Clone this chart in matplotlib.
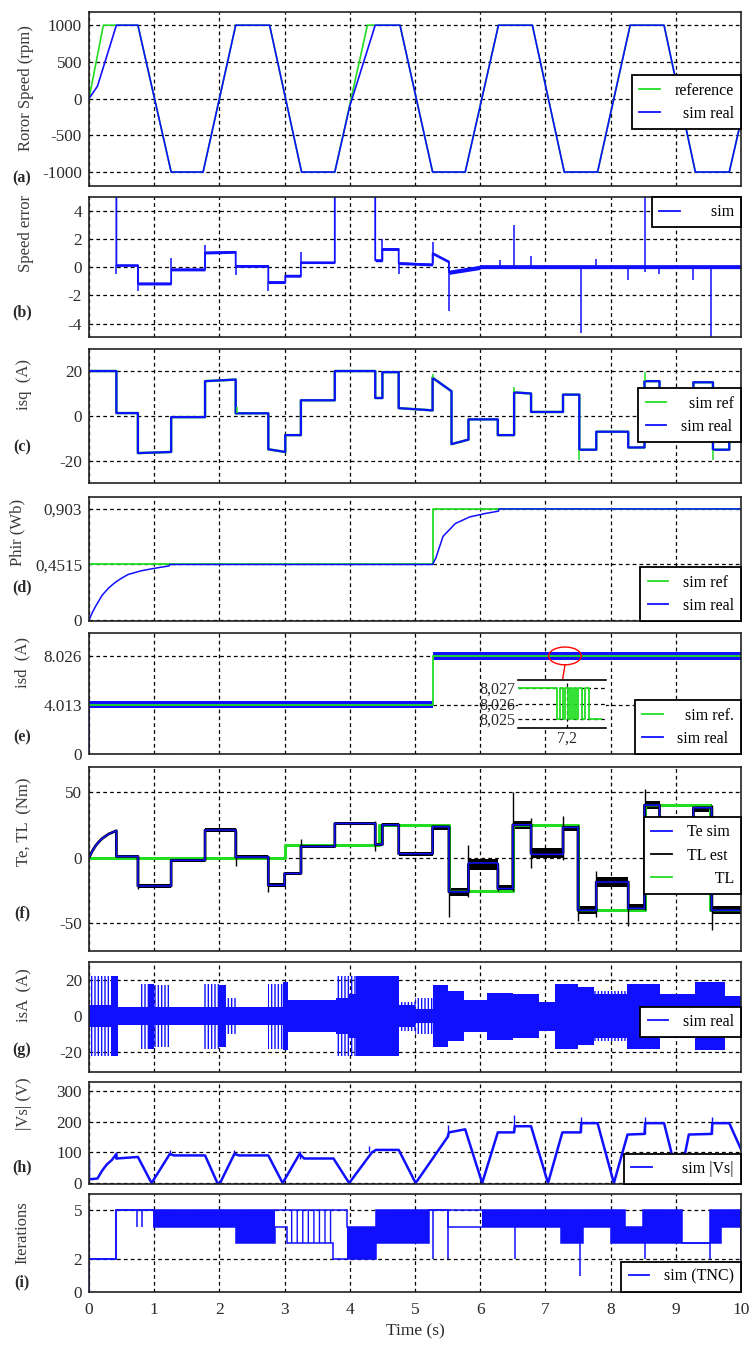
import numpy as np
import matplotlib
matplotlib.use('Agg')
import matplotlib.pyplot as plt
from matplotlib.lines import Line2D
from matplotlib.patches import Ellipse

plt.rcParams['font.family'] = ['Liberation Serif', 'DejaVu Serif']
plt.rcParams['axes.unicode_minus'] = False
plt.rcParams['hatch.linewidth'] = 1.0

BLUE = '#1010ff'
GREEN = '#22dd22'
TXT = '#2a2a2a'

# ---- (a) rotor speed (rpm)
spd_ref_t = [0, 0.22, 0.75, 1.26, 1.75, 2.25, 2.77, 3.26, 3.77, 4.27, 4.77, 5.27, 5.77, 6.28, 6.8, 7.29, 7.8, 8.3, 8.82, 9.3, 9.82, 10]
spd_ref_v = [0, 1000, 1000, -1000, -1000, 1000, 1000, -1000, -1000, 1000, 1000, -1000, -1000, 1000, 1000, -1000, -1000, 1000, 1000, -1000, -1000, -300]
spd_t = [0, 0.13, 0.42, 0.75, 1.26, 1.75, 2.25, 2.77, 3.26, 3.77, 4.0, 4.39, 4.77, 5.27, 5.77, 6.28, 6.8, 7.29, 7.8, 8.3, 8.82, 9.3, 9.82, 10]
spd_v = [0, 170, 1000, 1000, -1000, -1000, 1000, 1000, -1000, -1000, -100, 1000, 1000, -1000, -1000, 1000, 1000, -1000, -1000, 1000, 1000, -1000, -1000, -300]

# ---- (b) speed error, piecewise segments (start / end value)
err_edges = [0, 0.42, 0.75, 1.26, 1.78, 2.25, 2.75, 3.01, 3.25, 3.77, 4.39, 4.5, 4.75, 5.27, 5.52, 6.0, 10]
err_v0 = [60, 0.15, -1.15, -0.15, 1.05, 0.1, -1.05, -0.6, 0.35, 60, 0.5, 1.3, 0.3, 1.0, -0.35, 0.05]
err_v1 = [60, 0.15, -1.15, -0.15, 1.1, 0.1, -1.05, -0.6, 0.35, 60, 0.5, 1.3, 0.2, 0.4, 0.0, 0.05]
err_noise = [0, 0.08, 0.1, 0.1, 0.1, 0.1, 0.1, 0.1, 0.08, 0, 0.1, 0.1, 0.1, 0.1, 0.15, 0.14]
err_spk_t = [0.42, 0.75, 1.26, 1.78, 2.25, 2.75, 3.25, 4.5, 4.75, 5.27, 5.52, 6.3, 6.52, 6.78, 7.54, 7.78, 8.26, 8.52, 8.74, 9.26, 9.54]
err_spk_lo = [-0.5, -1.7, -0.15, 0.05, -0.55, -1.7, 0.35, 0.5, -0.45, 0.3, -3.1, 0.0, 0.0, 0.0, -4.7, 0.0, -0.9, -0.3, -0.5, -0.9, -5.5]
err_spk_hi = [0.15, 0.15, 0.65, 1.6, 0.1, -1.05, 1.1, 2.0, 0.3, 1.8, 0.0, 0.5, 3.0, 0.8, 0.1, 0.6, 0.1, 6.0, 0.1, 0.1, 0.05]

# ---- (c) isq (A)
isq_edges = [0, 0.42, 0.75, 1.26, 1.78, 2.25, 2.75, 3.01, 3.25, 3.77, 4.39, 4.5, 4.75, 5.27, 5.56, 5.82, 6.27, 6.52, 6.78, 7.27, 7.52, 7.78, 8.27, 8.52, 8.75, 9.27, 9.57, 9.82, 10]
isq_v0 = [20, 1.3, -16.5, -0.5, 15.5, 1.2, -14.8, -8.5, 7, 20, 8, 19.5, 3.5, 17, -12.5, -1.5, -8.5, 10.5, 1.8, 9.5, -15, -7, -14, 15.5, 2, 15, -15, -8]
isq_v1 = [20, 1.3, -16.0, -0.5, 16.2, 1.2, -16.0, -8.5, 7, 20, 8, 19.5, 2.5, 11, -10.5, -1.5, -8.5, 10.0, 1.8, 9.5, -15, -7, -14, 15.5, 2, 15, -15, -8]
isq_ref_spk_t = [2.27, 5.27, 6.52, 7.52, 8.52, 9.57]
isq_ref_spk_lo = [1.2, 17, 10.5, -19.5, 15.5, -19.5]
isq_ref_spk_hi = [4, 18.5, 13, -15, 19.5, -15]

# ---- (d) rotor flux (Wb)
phi_ref_t = [0, 5.27, 5.27, 10]
phi_ref_v = [0.4515, 0.4515, 0.903, 0.903]
phi_t = [0, 0.05, 0.1, 0.2, 0.3, 0.4, 0.5, 0.6, 0.8, 1.0, 1.23, 1.24, 5.27, 5.32, 5.43, 5.62, 5.84, 6.07, 6.28, 6.29, 10]
phi_v = [0, 0.06, 0.11, 0.2, 0.26, 0.305, 0.34, 0.37, 0.40, 0.42, 0.44, 0.4515, 0.4515, 0.505, 0.68, 0.785, 0.838, 0.865, 0.885, 0.903, 0.903]

# ---- (e) isd (A)
isd_ref_t = [0, 5.27, 5.27, 10]
isd_ref_v = [4.013, 4.013, 8.026, 8.026]
isd_edges = [0, 5.27, 10]
isd_lvl = [4.013, 7.98]
isd_noise = [0.28, 0.3]
zoom_t = [7.10, 7.179, 7.185, 7.193, 7.197, 7.203, 7.207, 7.211, 7.214, 7.219, 7.223, 7.231, 7.238, 7.245, 7.27]
zoom_v = [8.027, 8.025, 8.027, 8.025, 8.027, 8.025, 8.027, 8.025, 8.027, 8.025, 8.027, 8.025, 8.027, 8.025, 8.025]

# ---- (f) torques (Nm)
te0_t = [0, 0.05, 0.1, 0.15, 0.2, 0.3, 0.42]
te0_v = [0, 5, 9, 12, 14.5, 18, 20.5]
f_edges = [0.42, 0.75, 1.26, 1.78, 2.25, 2.75, 3.0, 3.25, 3.77, 4.39, 4.5, 4.75, 5.27, 5.52, 5.82, 6.27, 6.5, 6.78, 7.27, 7.5, 7.78, 8.27, 8.52, 8.75, 9.27, 9.55, 10]
te_lvl = [1, -21.5, -2, 21, 0.5, -21, -12, 8.5, 26, 10, 25, 3, 23.5, -26, -4, -23.5, 25, 2.5, 23, -40, -18.5, -38.5, 40, 18, 38, -40]
tl_est_lvl = [1, -21.5, -2, 21, 0.5, -21, -12, 8.5, 26, 10, 25, 3, 23.5, -26, -5, -23.5, 25, 3.5, 23, -40, -18.5, -38.5, 40, 18, 38, -40]
tl_est_noise = [1.4, 1.4, 1.4, 1.4, 1.4, 1.4, 1.4, 1.4, 1.4, 1.4, 1.4, 1.4, 2.5, 3.0, 4.0, 3.0, 3.0, 3.5, 3.0, 3.0, 3.5, 3.0, 3.0, 3.0, 3.0, 3.0]
tl_edges = [0, 3.0, 4.45, 5.52, 6.5, 7.5, 8.52, 9.53, 10]
tl_lvl = [0, 10, 25, -25, 25, -40, 40, -40]
tl_spk_t = [0.75, 2.25, 2.75, 3.25, 4.39, 5.52, 5.82, 6.27, 6.5, 6.78, 7.27, 7.5, 7.78, 8.27, 8.52, 9.55]
tl_spk_lo = [-24, -6, -26, -12, 5, -45, -30, -25, -25, -8, -2, -48, -45, -52, -40, -55]
tl_spk_hi = [1, 20, 0, 14, 28, 23, 10, -8, 50, 30, 32, 25, -10, -18, 52, 40]

# ---- (g) isA (A): envelope of dense and sparse switching
isa_edges = [0, 0.36, 0.44, 0.8, 0.92, 1.0, 1.22, 1.75, 2.0, 2.1, 2.25, 2.75, 2.98, 3.05, 3.79, 3.98, 4.1, 4.75, 5.0, 5.27, 5.5, 5.75, 6.1, 6.5, 6.9, 7.15, 7.5, 7.75, 8.25, 8.75, 9.3, 9.75, 10]
isa_dense = [6, 22, 5, 5, 18, 5, 5, 5, 17, 5, 5, 5, 19, 9, 10, 12, 22, 6, 4, 17, 14, 9, 13, 12, 8, 18, 16, 12, 18, 12, 19, 11]
isa_sparse = [22, 0, 0, 18, 0, 17, 0, 18, 0, 10, 0, 18, 0, 0, 22, 22, 0, 8, 10, 0, 0, 0, 0, 0, 0, 0, 0, 14, 0, 0, 0, 0]

# ---- (h) |Vs| (V)
vs_t = [0, 0, 0.13, 0.2, 0.27, 0.35, 0.42, 0.42, 0.75, 0.96, 1.24, 1.3, 1.78, 1.97, 2.01, 2.23, 2.3, 2.75, 2.97, 3.23, 3.3, 3.75, 3.99, 4.34, 4.4, 4.75, 5.01, 5.5, 5.52, 5.77, 6.03, 6.27, 6.52, 6.53, 6.78, 7.04, 7.26, 7.54, 7.55, 7.8, 8.05, 8.26, 8.52, 8.53, 8.82, 9.05, 9.2, 9.55, 9.56, 9.82, 10]
vs_v = [80, 12, 15, 40, 60, 75, 95, 80, 85, 0, 95, 90, 90, 0, 0, 95, 90, 90, 0, 95, 80, 80, 0, 100, 108, 108, 0, 150, 165, 175, 0, 165, 165, 185, 185, 0, 165, 165, 195, 195, 0, 158, 160, 195, 195, 0, 158, 160, 195, 195, 110]
vs_spk_t = [0.42, 1.24, 2.23, 3.23, 4.3, 5.5, 6.52, 7.54, 8.52, 9.55]
vs_spk_lo = [80, 90, 90, 80, 100, 150, 165, 165, 160, 160]
vs_spk_hi = [100, 108, 108, 105, 120, 190, 222, 215, 215, 215]

# ---- (i) iterations per step
it_edges = [0, 0.41, 1.0, 2.25, 2.85, 3.03, 3.74, 3.96, 4.4, 5.21, 5.5, 6.02, 7.24, 7.57, 8.0, 8.22, 8.5, 9.1, 9.52, 9.7, 10]
it_lo = [2, 5, 4, 3, 4, 3, 2, 2, 3, 5, 4, 4, 3, 4, 3, 3, 3, 3, 3, 4]
it_hi = [2, 5, 5, 5, 5, 5, 5, 4, 5, 5, 5, 5, 5, 5, 5, 4, 5, 3, 5, 5]
it_sparse = [0, 0, 0, 0, 0, 1, 1, 0, 0, 0, 1, 0, 0, 0, 0, 0, 0, 0, 0, 0]
it_spk_t = [0.0, 0.73, 0.82, 1.0, 5.27, 5.5, 6.54, 7.53, 8.52, 9.53]
it_spk_lo = [2, 4, 4, 4, 2, 2, 2, 1, 2, 2]
it_spk_hi = [5, 5, 5, 5, 5, 5, 4, 3, 3, 3]


def seg_xy(edges, v0, v1=None):
    # piecewise segments -> polyline (vertical jumps at the edges)
    if v1 is None:
        v1 = v0
    x = np.repeat(np.asarray(edges, float), 2)[1:-1]
    y = np.column_stack([v0, v1]).ravel()
    return x, y


W, H = 751, 1346
fig = plt.figure(figsize=(W / 100, H / 100), dpi=100)


def panel(top, bottom, ylim, yticks, yticklabels=None):
    ax = fig.add_axes([89 / W, 1 - bottom / H, 652 / W, (bottom - top) / H])
    ax.set_xlim(0, 10)
    ax.set_ylim(*ylim)
    ax.set_xticks(range(11))
    ax.set_yticks(yticks)
    if yticklabels is not None:
        ax.set_yticklabels(yticklabels)
    ax.set_xticklabels([])
    ax.grid(True, color='k', ls=(0, (3, 2.5)), lw=0.9)
    ax.set_axisbelow(True)
    ax.tick_params(length=0, labelsize=12.3, pad=5, labelcolor=TXT)
    for s in ax.spines.values():
        s.set_linewidth(1.2)
        s.set_color('#222222')
    return ax


def side_text(y_lab, lab, y_tag, tag, x_lab=26):
    fig.text(x_lab / W, 1 - y_lab / H, lab, rotation=90, ha='center', va='center',
             fontsize=12, color='#3a3a3a')
    fig.text(22 / W, 1 - y_tag / H, tag, ha='center', va='center',
             fontsize=11.5, fontweight='bold', color=TXT)


def legend(ax, items, loc, anchor):
    handles = [Line2D([], [], color=c, lw=1.3) for c, _ in items]
    lg = ax.legend(handles, [t for _, t in items], loc=loc, bbox_to_anchor=anchor,
                   borderaxespad=0, fancybox=False, framealpha=1, edgecolor='k',
                   fontsize=11.5, handlelength=1.3, handletextpad=0.9,
                   borderpad=0.45, labelspacing=0.45)
    lg.get_frame().set_linewidth(1.3)
    lg.set_zorder(10)
    return lg


# (a)
ax = panel(12, 186, (-1190, 1180), [-1000, -500, 0, 500, 1000])
ax.plot(spd_ref_t, spd_ref_v, color=GREEN, lw=1.2)
ax.plot(spd_t, spd_v, color=BLUE, lw=1.2)
legend(ax, [(GREEN, 'reference'), (BLUE, '  sim real')], 'lower right', (1.0, 0.328))
side_text(88, 'Roror Speed (rpm)', 178, '(a)')

# (b)
ax = panel(197, 337, (-4.95, 5.0), [-4, -2, 0, 2, 4])
x, y = seg_xy(err_edges, err_v0, err_v1)
nx, nz = seg_xy(err_edges, err_noise)
ax.fill_between(x, y - nz, y + nz, color=BLUE, lw=0)
ax.plot(x, y, color=BLUE, lw=1.3)
ax.vlines(err_spk_t, err_spk_lo, err_spk_hi, color=BLUE, lw=1.1)
legend(ax, [(BLUE, '    sim')], 'upper right', (1.0, 1.0))
side_text(233, 'Speed error', 312, '(b)')

# (c)
ax = panel(349, 483, (-29.8, 29.8), [-20, 0, 20])
x, y = seg_xy(isq_edges, isq_v0, isq_v1)
ax.plot(x, y, color=GREEN, lw=1.8)
ax.plot(x, y, color=BLUE, lw=1.6)
ax.vlines(isq_ref_spk_t, isq_ref_spk_lo, isq_ref_spk_hi, color=GREEN, lw=1.1)
legend(ax, [(GREEN, '  sim ref'), (BLUE, 'sim real')], 'lower right', (1.0, 0.306))
side_text(384, 'isq  (A)', 447, '(c)', x_lab=24)

# (d)
ax = panel(497, 621, (-0.008, 1.0), [0, 0.4515, 0.903], ['0', '0,4515', '0,903'])
ax.plot(phi_ref_t, phi_ref_v, color=GREEN, lw=1.3)
ax.plot(phi_t, phi_v, color=BLUE, lw=1.1)
legend(ax, [(GREEN, 'sim ref'), (BLUE, 'sim real')], 'lower right', (1.0, 0.0))
side_text(532, 'Phir (Wb)', 587, '(d)', x_lab=17)

# (e)
ax_e = panel(633, 754, (0, 9.87), [0, 4.013, 8.026], ['0', '4.013', '8.026'])
lvl = np.asarray(isd_lvl)
nz = np.asarray(isd_noise)
ax_e.stairs(lvl + nz, isd_edges, baseline=lvl - nz, fill=True, color=BLUE, lw=0)
ax_e.plot([0, 0], [0, 4.4], color=BLUE, lw=1.3)
ax_e.plot(isd_ref_t, isd_ref_v, color=GREEN, lw=1.3)
ax_e.add_patch(Ellipse((7.3, 8.0), 0.5, 1.45, fill=False, ec='red', lw=1.0, zorder=5))
ax_e.plot([7.3, 7.26], [7.27, 5.95], color='red', lw=1.0, zorder=5, clip_on=False)
legend(ax_e, [(GREEN, '  sim ref.'), (BLUE, 'sim real')], 'lower right', (1.0, 0.0))
side_text(663, 'isd  (A)', 737, '(e)', x_lab=22)

ins = fig.add_axes([518 / W, 1 - 728 / H, 88 / W, 48 / H])
ins.step(zoom_t, zoom_v, where='post', color=GREEN, lw=1.3)
ins.set_xlim(7.1, 7.28)
ins.set_ylim(8.02442, 8.02752)
ins.set_yticks([8.025, 8.026, 8.027])
ins.set_yticklabels(['8,025', '8,026', '8,027'])
ins.set_xticks([7.2])
ins.set_xticklabels(['7,2'])
ins.grid(True, color='k', ls=(0, (3, 2.5)), lw=0.9)
ins.tick_params(length=0, labelsize=11.5, pad=2, labelcolor=TXT)
ins.spines['left'].set_visible(False)
ins.spines['right'].set_visible(False)
for s in ('top', 'bottom'):
    ins.spines[s].set_linewidth(1.2)

# (f)
ax = panel(767, 951, (-71, 69), [-50, 0, 50])
x, y = seg_xy(tl_edges, tl_lvl)
ax.plot(x, y, color=GREEN, lw=2.2)
lvl = np.asarray(tl_est_lvl)
nz = np.asarray(tl_est_noise)
ax.stairs(lvl + nz, f_edges, baseline=lvl - nz, fill=True, color='k', lw=0)
x, y = seg_xy(f_edges, tl_est_lvl)
ax.plot(np.r_[te0_t, x], np.r_[te0_v, y], color='k', lw=2.0)
ax.vlines(tl_spk_t, tl_spk_lo, tl_spk_hi, color='k', lw=1.0)
x, y = seg_xy(f_edges, te_lvl)
ax.plot(np.r_[te0_t, x], np.r_[te0_v, y], color=BLUE, lw=1.1)
legend(ax, [(BLUE, 'Te sim'), ('k', 'TL est'), (GREEN, '       TL')], 'lower right', (1.0, 0.31))
side_text(822, 'Te, TL  (Nm)', 913, '(f)', x_lab=24)

# (g)
ax = panel(962, 1072, (-31, 30), [-20, 0, 20])
dense = np.asarray(isa_dense, float)
sparse = np.asarray(isa_sparse, float)
ax.stairs(sparse, isa_edges, baseline=-sparse, fill=True, facecolor='none',
          edgecolor=BLUE, hatch='|||||', lw=0)
ax.stairs(dense, isa_edges, baseline=-dense, fill=True, color=BLUE, lw=0)
legend(ax, [(BLUE, 'sim real')], 'lower right', (1.0, 0.318))
side_text(995, 'isA  (A)', 1050, '(g)', x_lab=24)

# (h)
ax = panel(1082, 1184, (-3, 329), [0, 100, 200, 300])
ax.plot(vs_t, vs_v, color=BLUE, lw=1.8)
ax.vlines(vs_spk_t, vs_spk_lo, vs_spk_hi, color=BLUE, lw=1.0)
legend(ax, [(BLUE, '    sim |Vs|')], 'lower right', (1.0, 0.0))
side_text(1104, '|Vs| (V)', 1167, '(h)', x_lab=24)

# (i)
ax = panel(1194, 1292, (0, 6), [0, 2, 5])
ex = np.asarray(it_edges, float)
lo = np.r_[it_lo, it_lo[-1]].astype(float)
hi = np.r_[it_hi, it_hi[-1]].astype(float)
sp = np.r_[it_sparse, it_sparse[-1]].astype(bool)
ax.fill_between(ex, lo, hi, where=~sp, step='post', color=BLUE, lw=0, interpolate=False)
ax.fill_between(ex, lo, hi, where=sp, step='post', facecolor='none', edgecolor=BLUE,
                hatch='|||', lw=0)
ax.stairs(it_hi, it_edges, color=BLUE, lw=1.1)
ax.stairs(it_lo, it_edges, color=BLUE, lw=1.1)
ax.vlines(it_spk_t, it_spk_lo, it_spk_hi, color=BLUE, lw=1.1)
ax.set_xticklabels([str(i) for i in range(11)])
ax.tick_params(axis='x', labelsize=12.5, pad=7)
ax.set_xlabel('Time (s)', fontsize=12.5, color=TXT, labelpad=4)
legend(ax, [(BLUE, 'sim (TNC)')], 'lower right', (1.0, 0.0))
side_text(1233, 'Iterations', 1282, '(i)', x_lab=22)

fig.savefig('out.png', dpi=100)
